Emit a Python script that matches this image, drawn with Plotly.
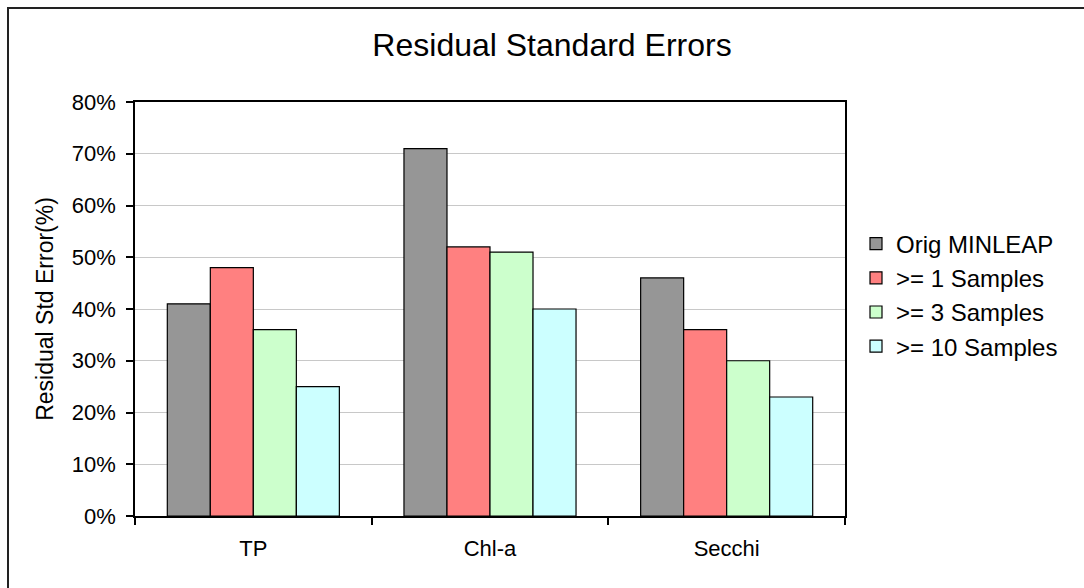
import plotly.graph_objects as go

categories = ["TP", "Chl-a", "Secchi"]
series_names = ["Orig MINLEAP", ">= 1 Samples", ">= 3 Samples", ">= 10 Samples"]
orig_minleap = [0.41, 0.71, 0.46]
ge1_samples = [0.48, 0.52, 0.36]
ge3_samples = [0.36, 0.51, 0.30]
ge10_samples = [0.25, 0.40, 0.23]
colors = ["#969696", "#FF8080", "#CCFFCC", "#CCFFFF"]
y_ticks = [0, 0.1, 0.2, 0.3, 0.4, 0.5, 0.6, 0.7, 0.8]

FONT = "Liberation Sans, Arial, sans-serif"

fig = go.Figure()
for name, vals, col in zip(series_names, [orig_minleap, ge1_samples, ge3_samples, ge10_samples], colors):
    fig.add_trace(go.Bar(
        x=categories, y=vals, name=name,
        marker=dict(color=col, line=dict(color="black", width=1.2)),
    ))

W, H = 1084, 588
L, R, T, B = 135, 239, 102, 72
pw = W - L - R
ph = H - T - B

fig.update_layout(
    width=W, height=H,
    margin=dict(l=L, r=R, t=T, b=B, autoexpand=False),
    paper_bgcolor="white", plot_bgcolor="white",
    barmode="group", bargap=0.273, bargroupgap=0,
    font=dict(family=FONT, color="black", size=18),
    title=dict(text="Residual Standard Errors", x=552 / W, xref="container", xanchor="center",
               y=1 - 45 / H, yref="container", yanchor="middle",
               font=dict(family=FONT, size=32, color="black")),
    legend=dict(x=(856 - L) / pw, xanchor="left", y=(516 - 295) / ph,
                yanchor="middle", font=dict(family=FONT, size=24, color="black"),
                bgcolor="rgba(0,0,0,0)", tracegroupgap=0, itemclick=False),
    showlegend=True,
    xaxis=dict(
        type="category", showline=True, linecolor="black", linewidth=1.5, mirror=True,
        ticks="outside", ticklen=7, tickcolor="black", tickwidth=1.5, tickson="boundaries",
        tickfont=dict(family=FONT, size=22, color="black"), ticklabelstandoff=12,
        showgrid=False,
    ),
    yaxis=dict(
        range=[0, 0.8], tickvals=y_ticks, tickformat=".0%",
        showline=True, linecolor="black", linewidth=1.5, mirror=True,
        ticks="outside", ticklen=7, tickcolor="black", tickwidth=1.5,
        tickfont=dict(family=FONT, size=22, color="black"), ticklabelstandoff=6,
        showgrid=True, gridcolor="#c8c8c8", gridwidth=1, zeroline=False,
        title=dict(text="Residual Std Error(%)", font=dict(family=FONT, size=23, color="black"), standoff=12),
    ),
)

# outer chart-area border (extends past the right/bottom of the view)
fig.add_shape(type="rect", xref="paper", yref="paper",
              x0=(8 - L) / pw, x1=(W + 20 - L) / pw,
              y0=-(H + 20 - (T + ph)) / ph, y1=1 + (T - 8) / ph,
              line=dict(color="#222222", width=2), fillcolor="rgba(0,0,0,0)", layer="below")

fig.write_html("out.html")
